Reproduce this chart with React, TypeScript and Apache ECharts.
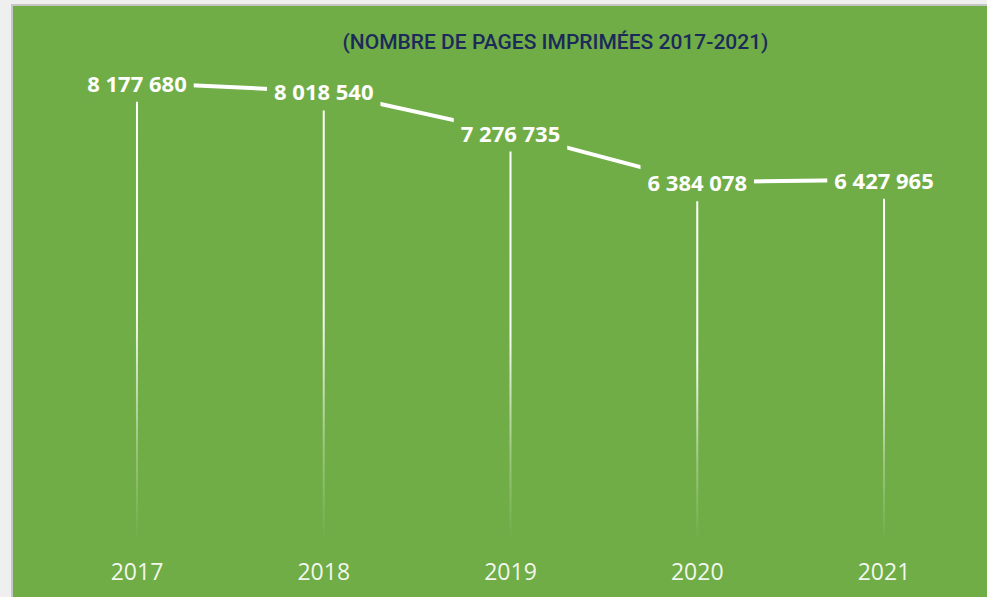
import React, { useEffect, useRef } from "react";
import * as echarts from "echarts";

const years = ["2017", "2018", "2019", "2020", "2021"];
const pages = [8177680, 8018540, 7276735, 6384078, 6427965];
const titleText = "(NOMBRE DE PAGES IMPRIMÉES 2017-2021)";
const yMin = 0;
const yMax = 9000000;

const GREEN = "#70AD47";

function fmt(v: number): string {
  return String(v).replace(/\B(?=(\d{3})+(?!\d))/g, " ");
}

export default function App() {
  const ref = useRef<HTMLDivElement>(null);

  useEffect(() => {
    if (!ref.current) return;
    const chart = echarts.init(ref.current, undefined, { renderer: "svg" });
    chart.setOption({
      animation: false,
      backgroundColor: GREEN,
      grid: { left: 30.6, right: 9.6, top: 31, bottom: 60.6, containLabel: false },
      graphic: [
        {
          type: "text",
          x: 542.5,
          y: 36,
          style: {
            text: titleText,
            fill: "#1C2A5A",
            font: "500 21px 'Liberation Sans Narrow', 'Roboto', sans-serif",
            textAlign: "center",
            textVerticalAlign: "middle",
          },
        },
      ],
      xAxis: {
        type: "category",
        data: years,
        boundaryGap: true,
        axisLine: { show: false },
        axisTick: { show: false },
        splitLine: { show: false },
        axisLabel: {
          color: "rgba(255,255,255,0.92)",
          fontFamily: "'Open Sans', sans-serif",
          fontSize: 23,
          margin: 23,
        },
      },
      yAxis: {
        type: "value",
        min: yMin,
        max: yMax,
        show: false,
        splitLine: { show: false },
      },
      series: [
        {
          type: "bar",
          data: pages,
          barWidth: 2,
          silent: true,
          z: 1,
          itemStyle: {
            color: new echarts.graphic.LinearGradient(0, 0, 0, 1, [
              { offset: 0, color: "rgba(255,255,255,1)" },
              { offset: 0.5, color: "rgba(255,255,255,0.95)" },
              { offset: 0.8, color: "rgba(255,255,255,0.3)" },
              { offset: 1, color: "rgba(255,255,255,0.02)" },
            ]),
          },
        },
        {
          type: "line",
          data: pages,
          z: 3,
          symbol: "circle",
          symbolSize: 1,
          itemStyle: { color: "#ffffff" },
          lineStyle: { color: "#ffffff", width: 4 },
          label: {
            show: true,
            position: "inside",
            formatter: (p: any) => fmt(p.value),
            color: "#ffffff",
            fontFamily: "'Open Sans', sans-serif",
            fontWeight: "bold",
            fontSize: 22,
            backgroundColor: GREEN,
            padding: [4, 7, 12, 7],
            offset: [0, 0],
          },
        },
      ],
    });
    return () => chart.dispose();
  }, []);

  return (
    <div style={{ position: "fixed", left: 0, top: 0, width: 987, height: 597, background: "#efefef", overflow: "hidden" }}>
      <div style={{ position: "absolute", left: 11, top: 4, width: 976, height: 593, background: "#c6c6c6" }} />
      <div ref={ref} style={{ position: "absolute", left: 13, top: 6, width: 974, height: 591 }} />
    </div>
  );
}
